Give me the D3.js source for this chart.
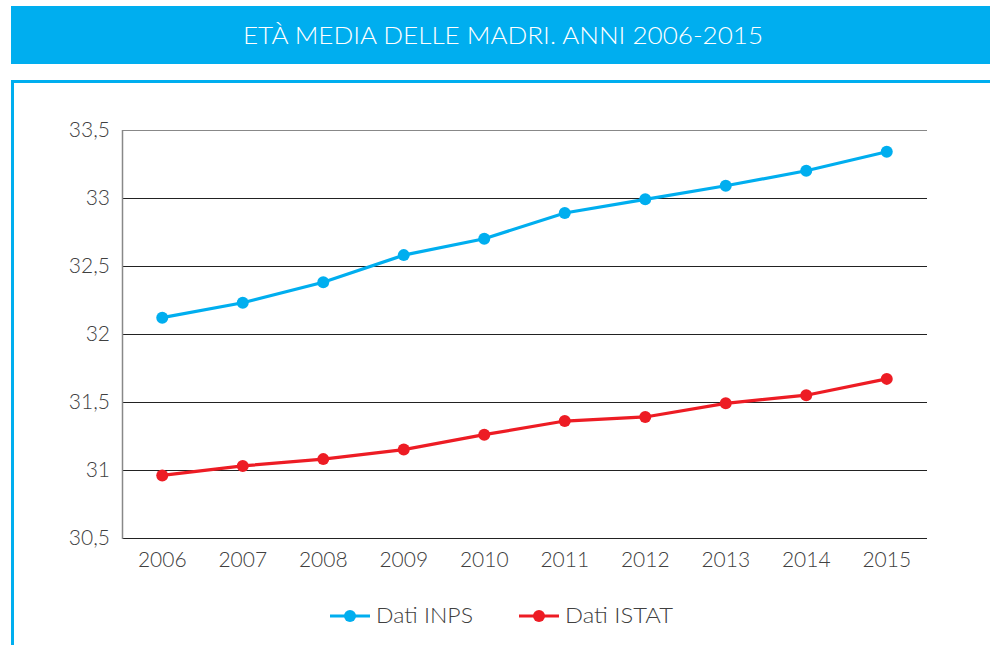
<!DOCTYPE html>
<html><head><meta charset="utf-8">
<script src="https://cdn.jsdelivr.net/npm/d3@7"></script>
<style>body{margin:0;background:#fff;}svg{display:block;}</style>
</head><body>
<svg id="c" width="990" height="645"></svg>
<script>
const title = "ETÀ MEDIA DELLE MADRI. ANNI 2006-2015";
const years = ["2006","2007","2008","2009","2010","2011","2012","2013","2014","2015"];
const inps  = [32.12,32.23,32.38,32.58,32.70,32.89,32.99,33.09,33.20,33.34];
const istat = [30.96,31.03,31.08,31.15,31.26,31.36,31.39,31.49,31.55,31.67];
const yTicks = [30.5,31,31.5,32,32.5,33,33.5];
const seriesNames = ["Dati INPS","Dati ISTAT"];
const colors = ["#00AEEF","#ED1C24"];

const svg = d3.select("#c");
const font = "Lato, 'Open Sans', sans-serif";
const txt = "#404040";

// Title band
svg.append("rect").attr("x",11).attr("y",6).attr("width",979).attr("height",58).attr("fill","#00AEEF");
svg.append("text").attr("x",503).attr("y",44).attr("text-anchor","middle")
  .attr("fill","#fff").attr("font-family",font).attr("font-size",24).attr("font-weight",300)
  .attr("textLength",520).attr("lengthAdjust","spacingAndGlyphs").text(title);

// Outer box
svg.append("path").attr("d","M12.5,650 V81.5 H995").attr("fill","none").attr("stroke","#00AEEF").attr("stroke-width",3);

const m = {l:122, r:927, t:130, b:538};
const x = d3.scaleBand().domain(years).range([m.l,m.r]);
const y = d3.scaleLinear().domain([30.5,33.5]).range([m.b,m.t]);

// gridlines
svg.append("g").selectAll("line").data(yTicks).join("line")
  .attr("x1",m.l).attr("x2",m.r).attr("y1",d=>Math.round(y(d))+0.5).attr("y2",d=>Math.round(y(d))+0.5)
  .attr("stroke",d=>d===33.5?"#888":"#222").attr("stroke-width",1);
// left axis line
svg.append("line").attr("x1",m.l+0.5).attr("x2",m.l+0.5).attr("y1",m.t).attr("y2",m.b+1).attr("stroke","#888").attr("stroke-width",1.5);

// y axis labels
const yAx = d3.axisLeft(y).tickValues(yTicks).tickSize(0).tickPadding(12)
  .tickFormat(d=>String(d).replace(".",","));
const gy = svg.append("g").attr("transform",`translate(${m.l},0)`).call(yAx);
gy.select(".domain").remove();
gy.selectAll("text").attr("font-family",font).attr("font-size",21).attr("font-weight",300).attr("fill",txt);

// x axis labels
const xAx = d3.axisBottom(x).tickSize(0).tickPadding(14);
const gx = svg.append("g").attr("transform",`translate(0,${m.b})`).call(xAx);
gx.select(".domain").remove();
gx.selectAll("text").attr("font-family",font).attr("font-size",21).attr("font-weight",300).attr("fill",txt);

const cx = d=>x(d)+x.bandwidth()/2;
const line = d3.line().x((d,i)=>cx(years[i])).y(d=>y(d));
[inps,istat].forEach((s,k)=>{
  svg.append("path").attr("d",line(s)).attr("fill","none").attr("stroke",colors[k]).attr("stroke-width",3.2);
  svg.append("g").selectAll("circle").data(s).join("circle")
    .attr("cx",(d,i)=>cx(years[i])).attr("cy",d=>y(d)).attr("r",6).attr("fill",colors[k]);
});

// legend
const leg = [{x:330,w:97},{x:519,w:108}];
leg.forEach((p,k)=>{
  const g = svg.append("g").attr("transform",`translate(${p.x},616)`);
  g.append("line").attr("x1",0).attr("x2",40).attr("y1",0).attr("y2",0).attr("stroke",colors[k]).attr("stroke-width",3.2);
  g.append("circle").attr("cx",20).attr("cy",0).attr("r",6).attr("fill",colors[k]);
  g.append("text").attr("x",46).attr("y",7).attr("font-family",font).attr("font-size",21).attr("font-weight",300)
    .attr("fill",txt).attr("textLength",p.w).attr("lengthAdjust","spacingAndGlyphs").text(seriesNames[k]);
});
</script>
</body></html>
